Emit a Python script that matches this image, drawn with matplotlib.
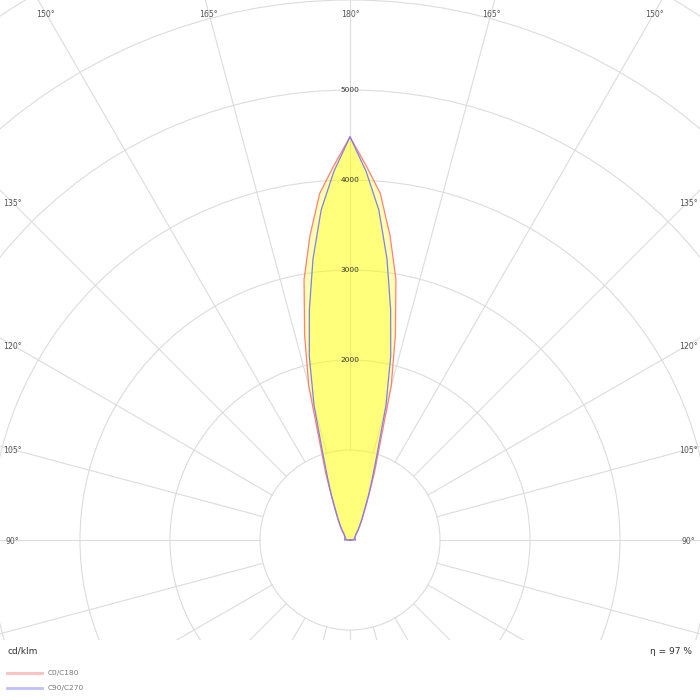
import numpy as np
import matplotlib.pyplot as plt
from matplotlib.patches import Circle
from matplotlib.lines import Line2D

# Luminous intensity (cd/klm) against gamma angle, one half of each plane
GAMMA = [180, 177.5, 175, 172.5, 170, 167.5, 165, 162.5, 160, 157.5, 155, 150, 145, 140, 135, 120, 105, 90]
C0_C180 = [4480, 4160, 3865, 3410, 2940, 2330, 1770, 1090, 790, 560, 420, 270, 190, 140, 100, 60, 45, 35]
C90_C270 = [4480, 4100, 3680, 3150, 2600, 2090, 1540, 1000, 720, 540, 400, 260, 180, 130, 95, 65, 60, 60]

RINGS = [1000, 2000, 3000, 4000, 5000, 6000, 7000]
RING_LABELS = [2000, 3000, 4000, 5000]
ANGLES = [90, 105, 120, 135, 150, 165, 180]
SERIES = ['C0/C180', 'C90/C270']
ETA = 97

# Plot area: 700x640 px, centre at (350, 540) px from top, 1000 cd = 90 px
PX = 1000 / 90
W, H, CX, CY = 700, 640, 350, 540

fig = plt.figure(figsize=(7, 7), dpi=100)
ax = fig.add_axes([0, 1 - H / 700, 1, H / 700])
ax.set_xlim(-CX * PX, (W - CX) * PX)
ax.set_ylim(-(H - CY) * PX, CY * PX)
ax.axis('off')

grid = '#dcdcdc'
for r in RINGS:
    ax.add_patch(Circle((0, 0), r, fill=False, edgecolor=grid, lw=0.8, zorder=1))
for a in np.arange(0, 360, 15):
    t = np.radians(a)
    ax.plot([1000 * np.sin(t), 9000 * np.sin(t)], [-1000 * np.cos(t), -9000 * np.cos(t)],
            color=grid, lw=0.8, zorder=1)


def outline(vals):
    g = np.radians(np.array(GAMMA, dtype=float))
    v = np.array(vals, dtype=float)
    xr, yr = v * np.sin(g), -v * np.cos(g)
    # right side from 90 up to 180, then left side back down, through the centre
    x = np.concatenate([[0], xr[::-1], -xr[1:], [0]])
    y = np.concatenate([[0], yr[::-1], yr[1:], [0]])
    return x, y


x0, y0 = outline(C0_C180)
x9, y9 = outline(C90_C270)
ax.fill(x0, y0, color='#ffff00', alpha=0.3, lw=0, zorder=2)
ax.fill(x9, y9, color='#ffff00', alpha=0.3, lw=0, zorder=2)
ax.plot(x0, y0, color='#ff7f7f', lw=0.9, zorder=3)
ax.plot(x9, y9, color='#7f7fef', lw=0.9, zorder=3)

for v in RING_LABELS:
    ax.text(0, v, str(v), ha='center', va='center', fontsize=5.3, color='#333333', zorder=4)

# angle labels where each spoke meets a rectangle inset 12 px / 13 px
for g in ANGLES:
    for side in ([1] if g == 180 else [-1, 1]):
        t = np.radians(g)
        dx, dy = side * np.sin(t), -np.cos(t)
        lims = []
        if abs(dx) > 1e-9:
            lims.append((CX - 12) / abs(dx))
        if dy > 1e-9:
            lims.append((CY - 13) / dy)
        s = min(lims)
        ax.text(dx * s * PX, (dy * s - 1.5) * PX, f'{g}°', ha='center', va='center',
                fontsize=5.6, color='#555555', zorder=4)

fig.text(8 / 700, 1 - 651 / 700, 'cd/klm', ha='left', va='center', fontsize=6.5, color='#333333')
fig.text(692 / 700, 1 - 651 / 700, f'η = {ETA} %', ha='right', va='center', fontsize=6.5, color='#333333')

# legend rows
for i, (name, col) in enumerate(zip(SERIES, ['#ffc0c0', '#c0c0ff'])):
    yy = 1 - (673 + 15 * i) / 700
    fig.add_artist(Line2D([7 / 700, 42 / 700], [yy, yy], color=col, lw=2))
    fig.text(48 / 700, yy, name, ha='left', va='center', fontsize=5.3, color='#777777')

fig.savefig('out.png', dpi=100)
